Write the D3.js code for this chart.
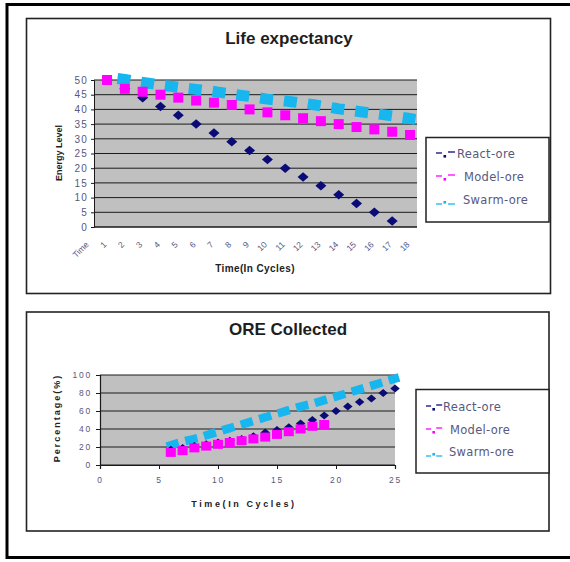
<!DOCTYPE html>
<meta charset="utf-8">
<script src="https://d3js.org/d3.v7.min.js"></script>
<style>
  body { margin: 0; background: #fff; }
  text { font-family: "Liberation Sans", Arial, sans-serif; }
</style>
<div id="chart"></div>
<script>

// ---- Life expectancy (category line chart) ----
var cycles = ["1","2","3","4","5","6","7","8","9","10","11","12","13","14","15","16","17","18"];
var lifeReact = [50, 47, 44, 41, 38, 35, 32, 29, 26, 23, 20, 17, 14, 11, 8, 5, 2];
var lifeModel = [50, 47, 46, 45, 44, 43, 42.3, 41.5, 40, 39, 38, 37, 36, 35, 34, 33.2, 32.4, 31.3];
var lifeSwarm = [50.9, 50.2, 49.2, 48.3, 47.5, 46.8, 46.1, 45.2, 44.4, 43.5, 42.9, 42.1, 41.2, 40.2, 39.4, 38.6, 37.8, 36.9];
var lifeTicks = [0, 5, 10, 15, 20, 25, 30, 35, 40, 45, 50];

// ---- ORE Collected (xy chart) ----
var reactTime = [6, 7, 8, 9, 10, 11, 12, 13, 14, 15, 16, 17, 18, 19, 20, 21, 22, 23, 24, 25];
var reactPct  = [17, 19, 21, 23, 25, 27, 29, 32, 36, 39, 42, 46, 50, 55, 60, 65, 70, 74, 80, 85];
var modelTime = [6, 7, 8, 9, 10, 11, 12, 13, 14, 15, 16, 17, 18, 19];
var modelPct  = [14, 16, 19, 21, 23, 25, 27, 29, 31, 34, 37, 40, 43, 45];
var swarmTime = [6, 7, 8, 9, 10, 11, 12, 13, 14, 15, 16, 17, 18, 19, 20, 21, 22, 23, 24, 25];
var swarmPct  = [22, 26, 29, 33, 37, 41, 45, 49, 53, 57, 61, 65, 68, 72, 76, 80, 84, 88, 92, 96];
var oreTicksX = [0, 5, 10, 15, 20, 25];
var oreTicksY = [0, 20, 40, 60, 80, 100];

var seriesNames = ["React-ore", "Model-ore", "Swarm-ore"];

var navy = "#0b0b78", pink = "#ff00ff", sky = "#17b6ee";
var labelColor = "#58587e";
var plotBg = "#c0c0c0";

var svg = d3.select("#chart").append("svg")
  .attr("width", 570)
  .attr("height", 562);

// outer frame + the two chart boxes
svg.append("rect").attr("x", 7).attr("y", 4.5).attr("width", 600).attr("height", 553)
  .attr("fill", "none").attr("stroke", "#000").attr("stroke-width", 3);
svg.append("rect").attr("x", 26.5).attr("y", 18.5).attr("width", 524).attr("height", 275)
  .attr("fill", "none").attr("stroke", "#222").attr("stroke-width", 1.6);
svg.append("rect").attr("x", 26.5).attr("y", 312).attr("width", 522.5).attr("height", 219)
  .attr("fill", "none").attr("stroke", "#222").attr("stroke-width", 1.6);

// diamond marker, a bit wider than tall
function diamond(w, h) {
  return "M" + (-w / 2) + ",0L0," + (-h / 2) + "L" + (w / 2) + ",0L0," + (h / 2) + "Z";
}

// legend: little "-.-" glyph drawn in the series colour, then the name
function legend(g, x0, y0, w, h, rows, textX, symW) {
  g.append("rect").attr("x", x0).attr("y", y0).attr("width", w).attr("height", h)
    .attr("fill", "#fff").attr("stroke", "#222").attr("stroke-width", 1.5);
  var colors = [navy, pink, sky];
  seriesNames.forEach(function(name, i) {
    var cy = rows[i], sx = x0 + 10, c = colors[i];
    var low = (i == 2) ? 4 : -1;   // Swarm uses underscores
    var s = symW / 20;
    g.append("line").attr("x1", sx).attr("x2", sx + 6 * s).attr("y1", cy + low).attr("y2", cy + low)
      .attr("stroke", c).attr("stroke-width", 1.3);
    g.append("rect").attr("x", sx + 7.5 * s).attr("y", cy + 1).attr("width", 2.6).attr("height", 2.6)
      .attr("fill", c);
    g.append("line").attr("x1", sx + 12 * s).attr("x2", sx + 19 * s).attr("y1", cy + low - (i == 2 ? 0 : 1))
      .attr("y2", cy + low - (i == 2 ? 0 : 1))
      .attr("stroke", c).attr("stroke-width", 1.3);
    g.append("text").attr("x", textX[i]).attr("y", cy + 4)
      .style("font-family", "'DejaVu Sans', Verdana, sans-serif")
      .style("font-size", "11.5px").style("letter-spacing", "0.3px")
      .style("fill", labelColor).text(name);
  });
}

// ================= Life expectancy =================
var topG = svg.append("g");

topG.append("text").attr("x", 289).attr("y", 44).attr("text-anchor", "middle")
  .style("font-size", "17px").style("font-weight", "bold").style("fill", "#1e1e1e")
  .text("Life expectancy");

var x1 = d3.scalePoint().domain(["Time"].concat(cycles)).range([89.2, 410]);
var y1 = d3.scaleLinear().domain([0, 50]).range([227, 80]);
var px0 = 94, px1 = 417;

topG.append("rect").attr("x", px0).attr("y", y1(50)).attr("width", px1 - px0).attr("height", y1(0) - y1(50))
  .attr("fill", plotBg);

topG.selectAll(".grid1").data(lifeTicks).enter().append("line")
  .attr("x1", px0).attr("x2", px1)
  .attr("y1", function(d) { return y1(d); }).attr("y2", function(d) { return y1(d); })
  .attr("stroke", "#1a1a1a").attr("stroke-width", 1);

var yAx1 = topG.append("g").attr("transform", "translate(" + px0 + ",0)")
  .call(d3.axisLeft(y1).tickValues(lifeTicks).tickSize(3).tickPadding(3));
yAx1.select(".domain").attr("stroke", "#1a1a1a");
yAx1.selectAll("line").attr("stroke", "#1a1a1a");
yAx1.selectAll("text").style("font-size", "10px").style("letter-spacing", "1.2px")
  .style("font-family", "'Liberation Sans', Arial, sans-serif").style("fill", labelColor);

topG.append("line").attr("x1", px0).attr("x2", px1).attr("y1", y1(0)).attr("y2", y1(0))
  .attr("stroke", "#1a1a1a").attr("stroke-width", 1.2);

// rotated category labels
topG.selectAll(".xl1").data(x1.domain()).enter().append("text")
  .attr("transform", function(d) { return "translate(" + (x1(d) - 2) + ",243) rotate(-45)"; })
  .attr("text-anchor", "end").attr("dy", "0.35em")
  .style("font-size", "8.5px").style("fill", labelColor)
  .text(function(d) { return d; });

topG.append("text").attr("transform", "translate(62,153) rotate(-90)").attr("text-anchor", "middle")
  .style("font-size", "9px").style("font-weight", "bold").style("fill", "#222")
  .text("Energy Level");
topG.append("text").attr("x", 255).attr("y", 272).attr("text-anchor", "middle")
  .style("font-size", "10px").style("font-weight", "bold").style("letter-spacing", "0.4px").style("fill", "#222")
  .text("Time(In Cycles)");

// Swarm: thick dashed line
var line1 = d3.line()
  .x(function(d, i) { return x1(cycles[i]); })
  .y(function(d) { return y1(d); });
topG.append("path").datum(lifeSwarm).attr("d", line1)
  .attr("fill", "none").attr("stroke", sky).attr("stroke-width", 11)
  .attr("stroke-linecap", "square").attr("stroke-dasharray", "2,22").attr("stroke-dashoffset", 8);

// React: diamonds
topG.selectAll(".react1").data(lifeReact).enter().append("path")
  .attr("d", diamond(11, 9.5))
  .attr("transform", function(d, i) { return "translate(" + x1(cycles[i]) + "," + y1(d) + ")"; })
  .attr("fill", navy);

// Model: squares
topG.selectAll(".model1").data(lifeModel).enter().append("rect")
  .attr("x", function(d, i) { return x1(cycles[i]) - 5; })
  .attr("y", function(d) { return y1(d) - 5; })
  .attr("width", 10).attr("height", 10)
  .attr("fill", pink);

legend(topG, 426, 137.5, 123, 84.5, [154, 177, 200], [457, 464, 463], 20);

// ================= ORE Collected =================
var botG = svg.append("g");

botG.append("text").attr("x", 288).attr("y", 335).attr("text-anchor", "middle")
  .style("font-size", "17px").style("font-weight", "bold").style("fill", "#1e1e1e")
  .text("ORE Collected");

var x2 = d3.scaleLinear().domain([0, 25]).range([100, 395]);
var y2 = d3.scaleLinear().domain([0, 100]).range([465, 375]);

botG.append("rect").attr("x", x2(0)).attr("y", y2(100)).attr("width", x2(25) - x2(0)).attr("height", y2(0) - y2(100))
  .attr("fill", plotBg);

botG.selectAll(".grid2").data(oreTicksY).enter().append("line")
  .attr("x1", x2(0)).attr("x2", x2(25))
  .attr("y1", function(d) { return y2(d); }).attr("y2", function(d) { return y2(d); })
  .attr("stroke", "#1a1a1a").attr("stroke-width", 1);

var yAx2 = botG.append("g").attr("transform", "translate(" + x2(0) + ",0)")
  .call(d3.axisLeft(y2).tickValues(oreTicksY).tickSize(4).tickPadding(4));
var xAx2 = botG.append("g").attr("transform", "translate(0," + y2(0) + ")")
  .call(d3.axisBottom(x2).tickValues(oreTicksX).tickSize(4).tickPadding(8));
[yAx2, xAx2].forEach(function(a) {
  a.select(".domain").attr("stroke", "#1a1a1a").attr("stroke-width", 1.2);
  a.selectAll("line").attr("stroke", "#1a1a1a");
  a.selectAll("text").style("font-size", "8.5px").style("letter-spacing", "1.8px")
    .style("font-family", "'Liberation Sans', Arial, sans-serif").style("fill", labelColor);
});

botG.append("text").attr("transform", "translate(60,418) rotate(-90)").attr("text-anchor", "middle")
  .style("font-size", "9px").style("font-weight", "bold").style("letter-spacing", "2px").style("fill", "#222")
  .text("Percentage(%)");
botG.append("text").attr("x", 244).attr("y", 507).attr("text-anchor", "middle")
  .style("font-size", "9px").style("font-weight", "bold").style("letter-spacing", "2.6px").style("fill", "#222")
  .text("Time(In Cycles)");

var swarmPts = swarmTime.map(function(t, i) { return [t, swarmPct[i]]; });
var line2 = d3.line()
  .x(function(d) { return x2(d[0]); })
  .y(function(d) { return y2(d[1]); });
botG.append("path").datum(swarmPts).attr("d", line2)
  .attr("fill", "none").attr("stroke", sky).attr("stroke-width", 8.5)
  .attr("stroke-linecap", "square").attr("stroke-dasharray", "4,15.3");

botG.selectAll(".react2").data(reactTime).enter().append("path")
  .attr("d", diamond(9.5, 8))
  .attr("transform", function(t, i) { return "translate(" + x2(t) + "," + y2(reactPct[i]) + ")"; })
  .attr("fill", navy);

botG.selectAll(".model2").data(modelTime).enter().append("rect")
  .attr("x", function(t) { return x2(t) - 5; })
  .attr("y", function(t, i) { return y2(modelPct[i]) - 4.5; })
  .attr("width", 10).attr("height", 9)
  .attr("fill", pink);

legend(botG, 416, 389.5, 133, 83.5, [407, 430, 452], [443, 450, 449], 17);

</script>
